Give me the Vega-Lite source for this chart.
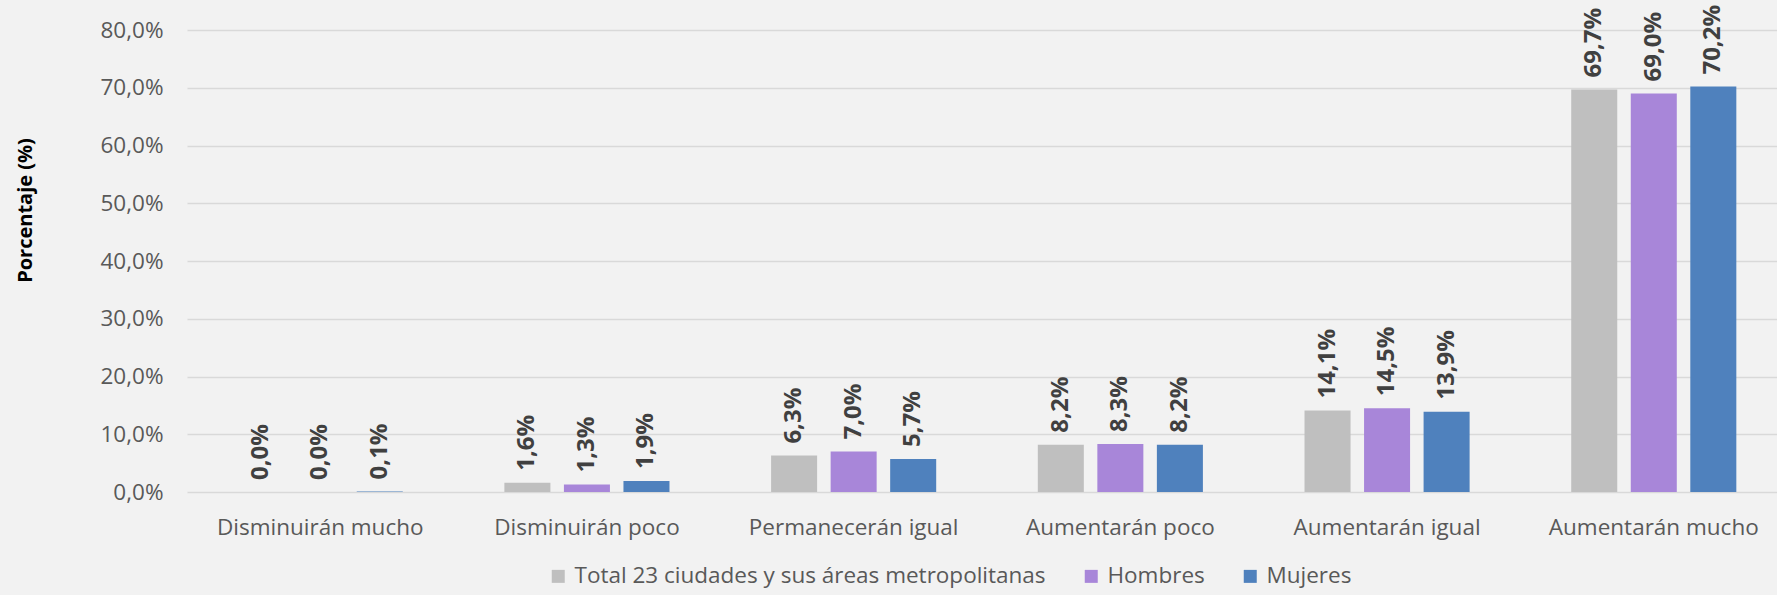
{
  "$schema": "https://vega.github.io/schema/vega-lite/v6.json",
  "autosize": "none",
  "width": 1590,
  "height": 462,
  "padding": {"left": 187, "top": 30, "right": 0, "bottom": 103},
  "background": "#F2F2F2",
  "config": {
    "locale": {"number": {"decimal": ",", "thousands": ".", "grouping": [3], "currency": ["", " €"]}},
    "view": {"stroke": null},
    "font": "Open Sans"
  },
  "data": {
    "values": [
      {"categoria": "Disminuirán mucho", "grupo": "Total 23 ciudades y sus áreas metropolitanas", "valor": 0.0},
      {"categoria": "Disminuirán mucho", "grupo": "Hombres", "valor": 0.0},
      {"categoria": "Disminuirán mucho", "grupo": "Mujeres", "valor": 0.001},
      {"categoria": "Disminuirán poco", "grupo": "Total 23 ciudades y sus áreas metropolitanas", "valor": 0.016},
      {"categoria": "Disminuirán poco", "grupo": "Hombres", "valor": 0.013},
      {"categoria": "Disminuirán poco", "grupo": "Mujeres", "valor": 0.019},
      {"categoria": "Permanecerán igual", "grupo": "Total 23 ciudades y sus áreas metropolitanas", "valor": 0.063},
      {"categoria": "Permanecerán igual", "grupo": "Hombres", "valor": 0.070},
      {"categoria": "Permanecerán igual", "grupo": "Mujeres", "valor": 0.057},
      {"categoria": "Aumentarán poco", "grupo": "Total 23 ciudades y sus áreas metropolitanas", "valor": 0.082},
      {"categoria": "Aumentarán poco", "grupo": "Hombres", "valor": 0.083},
      {"categoria": "Aumentarán poco", "grupo": "Mujeres", "valor": 0.082},
      {"categoria": "Aumentarán igual", "grupo": "Total 23 ciudades y sus áreas metropolitanas", "valor": 0.141},
      {"categoria": "Aumentarán igual", "grupo": "Hombres", "valor": 0.145},
      {"categoria": "Aumentarán igual", "grupo": "Mujeres", "valor": 0.139},
      {"categoria": "Aumentarán mucho", "grupo": "Total 23 ciudades y sus áreas metropolitanas", "valor": 0.697},
      {"categoria": "Aumentarán mucho", "grupo": "Hombres", "valor": 0.690},
      {"categoria": "Aumentarán mucho", "grupo": "Mujeres", "valor": 0.702}
    ]
  },
  "encoding": {
    "x": {
      "field": "categoria",
      "type": "nominal",
      "sort": null,
      "scale": {"range": [0, 1600], "paddingInner": 0.381, "paddingOuter": 0.19},
      "axis": {
        "title": null,
        "labelAngle": 0,
        "labelFontSize": 22.5,
        "labelColor": "#595959",
        "labelPadding": 24,
        "labelLimit": 400,
        "ticks": false,
        "domain": false,
        "grid": false
      }
    },
    "xOffset": {
      "field": "grupo",
      "type": "nominal",
      "sort": null,
      "scale": {"paddingInner": 0.227, "paddingOuter": 0}
    },
    "y": {
      "field": "valor",
      "type": "quantitative",
      "scale": {"domain": [0, 0.8], "nice": false},
      "axis": {
        "title": "Porcentaje (%)",
        "titleFontSize": 20,
        "titleFontWeight": "bold",
        "titleColor": "#000000",
        "titleX": -162,
        "titleY": 180,
        "titleAngle": -90,
        "titleBaseline": "middle",
        "titleAlign": "center",
        "format": ".1%",
        "values": [0, 0.1, 0.2, 0.3, 0.4, 0.5, 0.6, 0.7, 0.8],
        "labelFontSize": 22.5,
        "labelColor": "#595959",
        "labelPadding": 24,
        "ticks": false,
        "domain": false,
        "grid": true,
        "gridColor": "#D9D9D9",
        "gridWidth": 1.5
      }
    }
  },
  "layer": [
    {
      "mark": {"type": "bar"},
      "encoding": {
        "color": {
          "field": "grupo",
          "type": "nominal",
          "sort": null,
          "scale": {
            "domain": ["Total 23 ciudades y sus áreas metropolitanas", "Hombres", "Mujeres"],
            "range": ["#BFBFBF", "#A886D9", "#4F81BD"]
          },
          "legend": {
            "title": null,
            "orient": "none",
            "direction": "horizontal",
            "legendX": 360,
            "legendY": 535,
            "padding": 0,
            "symbolType": "square",
            "symbolSize": 169,
            "symbolStrokeWidth": 0,
            "labelFontSize": 22.5,
            "labelColor": "#595959",
            "labelOffset": 5,
            "labelLimit": 600,
            "columnPadding": 34
          }
        }
      }
    },
    {
      "mark": {"type": "text", "angle": -90, "align": "left", "baseline": "middle", "dx": 12, "fontSize": 24, "fontWeight": "bold", "color": "#404040"},
      "encoding": {
        "text": {"field": "valor", "type": "quantitative", "format": ".1%"}
      }
    }
  ]
}
